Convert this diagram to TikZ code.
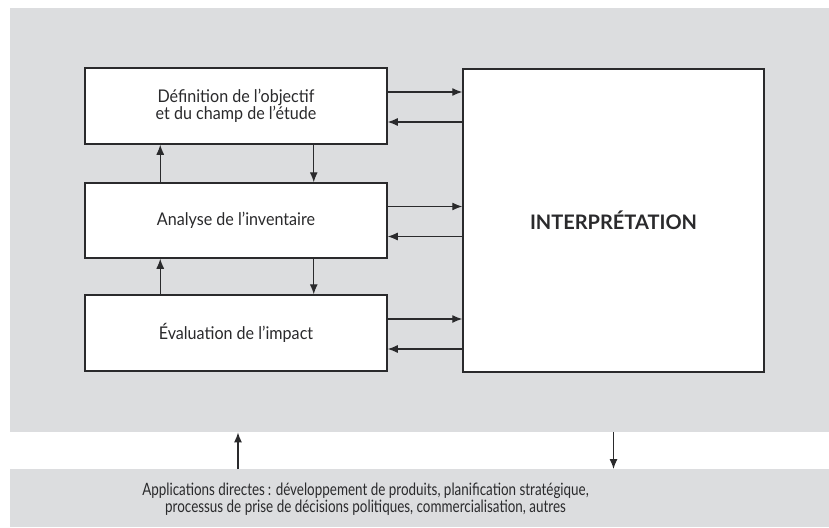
\documentclass[tikz,border=0pt]{standalone}
\usepackage{fontspec}
\setmainfont{Lato}
\newfontfamily\boxfont[FakeStretch=0.92]{Lato}
\newfontfamily\narrowfont[FakeStretch=0.79]{Lato}
\usetikzlibrary{arrows.meta}
\definecolor{panelgray}{HTML}{DCDDDF}
\definecolor{inkgray}{HTML}{2A2A2C}
\tikzset{
  panel/.style={fill=panelgray, draw=none, inner sep=0pt, anchor=north west},
  stepbox/.style={draw=inkgray, line width=1.5pt, fill=white, minimum width=302pt,
    minimum height=76pt, align=center, font=\boxfont\fontsize{17.5}{17}\selectfont, text=inkgray},
  arr/.style={draw=inkgray, line width=1.2pt, -{Latex[length=10pt,width=8pt]}}
}
\begin{document}
\begin{tikzpicture}[x=1pt,y=-1pt]
\useasboundingbox (0,0) rectangle (829,527);
% background panels
\node[panel, minimum width=819pt, minimum height=424pt] (top) at (10,8) {};
\node[panel, minimum width=819pt, minimum height=58pt] (bottom) at (10,469) {};
\node[text=inkgray, align=center, font=\narrowfont\fontsize{17}{15.5}\selectfont]
  (apptext) at (365.5,499) {Applications directes\,: développement de produits, planification stratégique,\\processus de prise de décisions politiques, commercialisation, autres};
% phase boxes
\node[stepbox] (b1) at (236,106) {Définition de l’objectif\\et du champ de l’étude};
\node[stepbox, minimum height=75pt] (b2) at (236,220.5) {Analyse de l’inventaire};
\node[stepbox] (b3) at (236,333) {Évaluation de l’impact};
\node[stepbox, minimum width=301pt, minimum height=303pt,
  font=\bfseries\fontsize{20}{22}\selectfont] (interp) at (613.5,220.5) {INTERPRÉTATION};
% links to interpretation
\foreach \b in {b1,b2,b3}{
  \draw[arr] ([yshift=14pt]\b.east) -- ([yshift=14pt]\b.east -| interp.west);
  \draw[arr] ([yshift=-16pt]\b.east -| interp.west) -- ([yshift=-16pt]\b.east);
}
% links between phases
\draw[arr] ([xshift=76pt]b2.north west) -- ([xshift=76pt]b1.south west);
\draw[arr] ([xshift=-74pt]b1.south east) -- ([xshift=-74pt]b2.north east);
\draw[arr] ([xshift=76pt]b3.north west) -- ([xshift=76pt]b2.south west);
\draw[arr] ([xshift=-74pt]b2.south east) -- ([xshift=-74pt]b3.north east);
% links to applications
\draw[arr] (bottom.north west -| 238,0) -- (top.south west -| 238,0);
\draw[arr] (top.south west -| interp.south) -- (bottom.north west -| interp.south);
\end{tikzpicture}
\end{document}
